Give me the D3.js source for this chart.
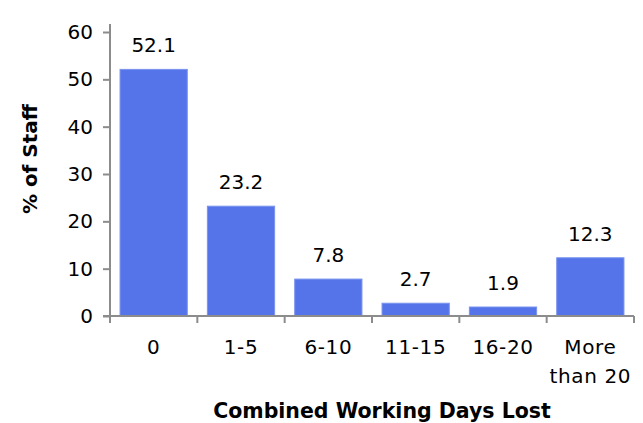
<!DOCTYPE html>
<html><head><meta charset="utf-8">
<script src="https://cdn.jsdelivr.net/npm/d3@7"></script>
<style>body{margin:0;background:#fff}svg{display:block}</style>
</head><body>
<svg id="c" width="643" height="423"></svg>
<script>
const categories = ["0", "1-5", "6-10", "11-15", "16-20", "More\nthan 20"];
const values = [52.1, 23.2, 7.8, 2.7, 1.9, 12.3];
const yTicks = [0, 10, 20, 30, 40, 50, 60];
const yTitle = "% of Staff";
const xTitle = "Combined Working Days Lost";

(function () {
const svg = d3.select("#c");
const font = "'DejaVu Sans', sans-serif";
const pLeft = 110, pRight = 634, pTop = 32, pBottom = 316;
const x = d3.scaleBand().domain(categories).range([pLeft, pRight]).paddingInner(0.23).paddingOuter(0.115);
const xb = d3.scaleBand().domain(categories).range([pLeft, pRight]);
const y = d3.scaleLinear().domain([0, 60]).range([pBottom, pTop]);
const axisCol = "#8c8c8c";

// bars
svg.selectAll("rect.bar").data(values).join("rect")
  .attr("x", (d, i) => x(categories[i])).attr("width", x.bandwidth())
  .attr("y", d => y(d)).attr("height", d => y(0) - y(d))
  .attr("fill", "#5574EA").attr("stroke", "#7a93ee").attr("stroke-width", 1);

// value labels
svg.selectAll("text.val").data(values).join("text")
  .attr("x", (d, i) => x(categories[i]) + x.bandwidth() / 2)
  .attr("y", d => y(d) - 17)
  .attr("text-anchor", "middle").attr("font-family", font).attr("font-size", 20).attr("fill", "#000")
  .text(d => d.toFixed(1));

// y axis
const ya = svg.append("g").attr("transform", `translate(${pLeft},0)`)
  .call(d3.axisLeft(y).tickValues(yTicks).tickSize(7).tickPadding(10));
ya.select(".domain").attr("stroke", axisCol).attr("stroke-width", 2).attr("d", `M0,${pTop - 8}V${pBottom}`);
ya.selectAll(".tick line").attr("stroke", axisCol).attr("stroke-width", 2);
ya.selectAll(".tick text").attr("font-family", font).attr("font-size", 20).attr("fill", "#000");

// x axis
const xa = svg.append("g").attr("transform", `translate(0,${pBottom})`);
xa.append("path").attr("d", `M${pLeft - 7},0H${pRight}`).attr("stroke", axisCol).attr("stroke-width", 2).attr("fill", "none");
const bounds = categories.map(c => xb(c)).concat([pRight]);
xa.selectAll("line.tk").data(bounds).join("line")
  .attr("x1", d => d).attr("x2", d => d).attr("y1", 0).attr("y2", 7)
  .attr("stroke", axisCol).attr("stroke-width", 2);
xa.selectAll("text.cat").data(categories).join("text")
  .attr("text-anchor", "middle").attr("font-family", font).attr("font-size", 20).attr("fill", "#000")
  .attr("letter-spacing", 0.6)
  .attr("transform", d => `translate(${xb(d) + xb.bandwidth() / 2},38)`)
  .each(function (d) {
    const lines = d.split("\n");
    d3.select(this).selectAll("tspan").data(lines).join("tspan")
      .attr("x", 0).attr("y", (l, i) => i * 29).text(l => l);
  });

// titles
svg.append("text").attr("x", 382).attr("y", 418).attr("text-anchor", "middle")
  .attr("font-family", font).attr("font-weight", "bold").attr("font-size", 20.5).text(xTitle);
svg.append("text").attr("transform", `translate(37,159) rotate(-90)`).attr("text-anchor", "middle")
  .attr("font-family", font).attr("font-weight", "bold").attr("font-size", 20).text(yTitle);
})();
</script>
</body></html>
